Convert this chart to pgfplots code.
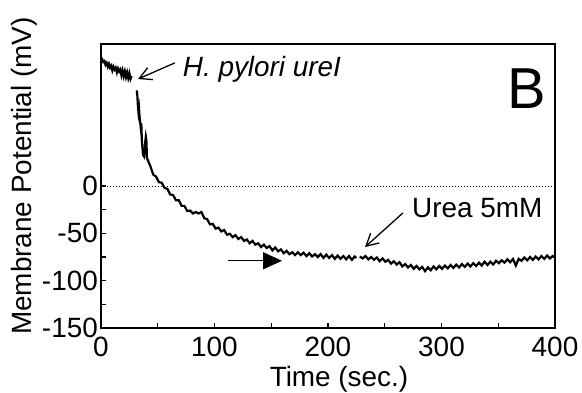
\documentclass[border=0pt]{standalone}
\usepackage{pgfplots}
\pgfplotsset{compat=1.18}
\usetikzlibrary{arrows.meta}
\usepackage{fontspec}
\setmainfont{Liberation Sans}
\begin{document}
\begin{tikzpicture}
\begin{axis}[
  scale only axis,
  width=454bp, height=284bp,
  xmin=0, xmax=400, ymin=-150, ymax=150,
  xtick={0,100,200,300,400},
  minor xtick={50,150,250,350},
  ytick={-150,-100,-50,0},
  yticklabels={-150,-100,-50,0},
  minor ytick={-125,-75,-25},
  xtick pos=bottom, ytick pos=left,
  tick align=inside,
  major tick length=5bp, minor tick length=5bp,
  every tick/.style={black, line width=1.2bp},
  axis line style={line width=1.6bp},
  font=\fontsize{28}{32}\selectfont,
  /pgf/number format/assume math mode=true,
  yticklabel style={inner xsep=3bp},
  xticklabel style={inner ysep=9bp},
  xlabel={Time (sec.)},
  ylabel={Membrane Potential (mV)},
  xlabel style={yshift=3bp, xshift=11bp},
  ylabel style={yshift=-2bp, xshift=10bp},
  clip=false,
]
\addplot[black, line width=0.8bp, dash pattern=on 1bp off 2bp] coordinates {(0,0) (400,0)};
\addplot[black, line width=2.2bp] coordinates {
(0,133) (1,134) (2,131) (3,132) (4,128) (5,130) (6,126) (7,129) (8,125) (9,127)
(10,122) (11,126) (12,123) (13,125) (14,120) (15,124) (16,121) (17,123) (18,117) (19,122)
(20,116) (21,121) (22,115) (23,120) (24,114) (25,119) (26,113) (27,116)
};
\addplot[black, line width=2.2bp] coordinates {
(31.5,101) (32,96) (32.5,85) (33,78) (33.5,82) (34,73) (35,62) (35.5,66) (36,48) (37,33)
(38,31) (38.5,36) (39,47) (39.5,52) (40,48) (40.5,30) (41,28)
(43.5,21) (46,12) (48.5,10) (51,4) (53.5,3.5) (56,-2) (58.5,-3) (61,-9) (63.5,-9.5)
(66,-15) (68.5,-15) (71,-21) (73.5,-21) (76,-26.5) (78.5,-26) (81,-29) (83.5,-27.5) (86,-29) (88.5,-27.5)
(91,-34) (93.5,-35) (96,-40.5) (98.5,-40) (101,-45) (103.5,-44) (106,-48) (108.5,-46.5) (111,-51.5) (113.5,-50.5)
(116,-54) (118.5,-52) (121,-56) (123.5,-54) (126,-58) (128.5,-56.5) (131,-60.5) (133.5,-58) (136,-62) (138.5,-60.5)
(141,-64.5) (143.5,-62) (146,-65.5) (148.5,-63.5) (151,-68) (153.5,-65) (156,-69) (158.5,-67) (161,-71) (163.5,-68.5)
(166,-72) (168.5,-70) (171,-73) (173.5,-70) (176,-73) (178.5,-70.5) (181,-74) (183.5,-71) (186,-74.5) (188.5,-72)
(191,-75) (193.5,-72) (196,-76) (198.5,-72.5) (201,-76) (203.5,-73) (206,-77) (208.5,-73.5) (211,-77) (213.5,-74)
(216,-77.5) (218.5,-74) (221,-78) (223.5,-74.5) (225,-76)
};
\addplot[black, line width=2.2bp] coordinates {
(228,-74.5) (230.5,-76.5) (233,-74) (235.5,-77.5) (238,-75) (240.5,-78) (243,-75.5) (245.5,-79.5) (248,-76.5) (250.5,-80)
(253,-78) (255.5,-82) (258,-79.5) (260.5,-83) (263,-80.5) (265.5,-85) (268,-82.5) (270.5,-86) (273,-83.5) (275.5,-87.5)
(278,-84.5) (280.5,-88) (283,-85.5) (285.5,-90) (288,-86) (290.5,-89) (293,-85) (295.5,-88) (298,-84.5) (300.5,-87.5)
(303,-84) (305.5,-87) (308,-83.5) (310.5,-86.5) (313,-83) (315.5,-86) (318,-82.5) (320.5,-85.5) (323,-82) (325.5,-85)
(328,-81.5) (330.5,-84.5) (333,-81) (335.5,-84) (338,-80) (340.5,-83.5) (343,-80) (345.5,-83) (348,-79) (350.5,-81.5)
(353,-78.5) (355.5,-81) (358,-77.5) (360.5,-80.5) (363,-77) (365.5,-84) (368,-77) (370.5,-79) (373,-75.5) (375.5,-78.5)
(378,-75) (380.5,-78) (383,-74.5) (385.5,-77.5) (388,-74) (390.5,-77) (393,-73.5) (395.5,-76.5) (398,-74) (400,-75.5)
};
% annotations
\draw[line width=1.3bp, -{Straight Barb[length=12bp,width=13bp]}] (axis cs:65,130) -- (axis cs:32.6,113);
\node[anchor=west, inner sep=0pt, font=\fontsize{28}{32}\selectfont\itshape] at (axis cs:72,123) {H. pylori ureI};
\node[inner sep=0pt, font=\fontsize{58}{60}\selectfont] at (axis cs:375,102.5) {B};
\draw[line width=1.3bp, -{Straight Barb[length=12bp,width=13bp]}] (axis cs:266,-28.5) -- (axis cs:232.6,-64.5);
\node[anchor=west, inner sep=0pt, font=\fontsize{28}{32}\selectfont] at (axis cs:274,-23) {Urea 5mM};
\draw[line width=1.3bp, -{Triangle[length=19bp,width=17bp]}] (axis cs:112,-79) -- (axis cs:159.5,-79);
\end{axis}
\pgfresetboundingbox
\path ([shift={(-101bp,-65bp)}]current axis.south west) rectangle ([shift={(27bp,44bp)}]current axis.north east);
\end{tikzpicture}
\end{document}
